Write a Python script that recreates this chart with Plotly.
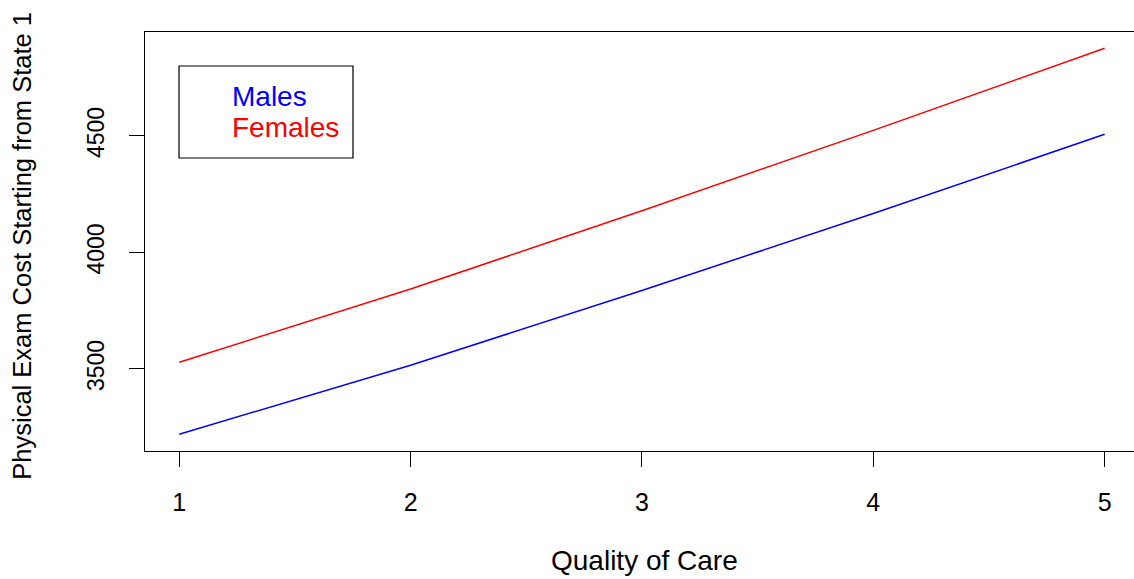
import plotly.graph_objects as go

# Expected physical exam cost by quality-of-care level
quality = [1, 2, 3, 4, 5]
males = [3220, 3516, 3837, 4167, 4507]
females = [3529, 3843, 4179, 4524, 4876]

x_ticks = [1, 2, 3, 4, 5]
y_ticks = [3500, 4000, 4500]

FONT = "Liberation Sans, Arial, Helvetica, sans-serif"

fig = go.Figure()
fig.add_trace(go.Scatter(x=quality, y=males, mode="lines", name="Males",
                         line=dict(color="#0000ff", width=1.5)))
fig.add_trace(go.Scatter(x=quality, y=females, mode="lines", name="Females",
                         line=dict(color="#ff0000", width=1.5)))

W, H = 1134, 579
L, R, T, B = 145, 0, 32, 128

fig.update_layout(
    width=W, height=H,
    margin=dict(l=L, r=R, t=T, b=B, pad=0),
    paper_bgcolor="white", plot_bgcolor="white",
    showlegend=False,
    font=dict(family=FONT, color="black"),
)

fig.update_xaxes(
    range=[0.852, 5.127],
    tickvals=x_ticks, ticktext=[str(v) for v in x_ticks],
    ticks="outside", ticklen=15, tickwidth=1.2, tickcolor="black",
    showline=True, linecolor="black", linewidth=1.2, mirror=True,
    showgrid=False, zeroline=False,
    tickfont=dict(size=25, family=FONT, color="black"),
    ticklabelstandoff=14,
)
fig.update_yaxes(
    range=[3148, 4946],
    tickvals=y_ticks, ticktext=[str(v) for v in y_ticks],
    tickangle=-90,
    ticks="outside", ticklen=15, tickwidth=1.2, tickcolor="black",
    showline=True, linecolor="black", linewidth=1.2, mirror=False,
    showgrid=False, zeroline=False,
    tickfont=dict(size=23, family=FONT, color="black"),
    ticklabelstandoff=16,
)

# Axis titles
fig.add_annotation(text="Quality of Care", xref="paper", yref="paper",
                   x=0.505, y=0, yshift=-109, showarrow=False,
                   xanchor="center", yanchor="middle",
                   font=dict(size=28, family=FONT, color="black"))
fig.add_annotation(text="Physical Exam Cost Starting from State 1",
                   xref="paper", yref="paper", x=(22 - L) / (W - L - R), y=0.49,
                   textangle=-90, showarrow=False,
                   xanchor="center", yanchor="middle",
                   font=dict(size=25.5, family=FONT, color="black"))

# Legend box with coloured labels
fig.add_shape(type="rect", xref="paper", yref="paper",
              x0=0.0344, x1=0.2103, y0=0.6993, y1=0.9189,
              line=dict(color="black", width=1.2), fillcolor="rgba(0,0,0,0)")
fig.add_annotation(text="Males", xref="paper", yref="paper",
                   x=0.0860, y=0.845, showarrow=False,
                   xanchor="left", yanchor="middle",
                   font=dict(size=28, family=FONT, color="#0000ff"))
fig.add_annotation(text="Females", xref="paper", yref="paper",
                   x=0.0860, y=0.771, showarrow=False,
                   xanchor="left", yanchor="middle",
                   font=dict(size=28, family=FONT, color="#ff0000"))

fig.write_html("out.html")
